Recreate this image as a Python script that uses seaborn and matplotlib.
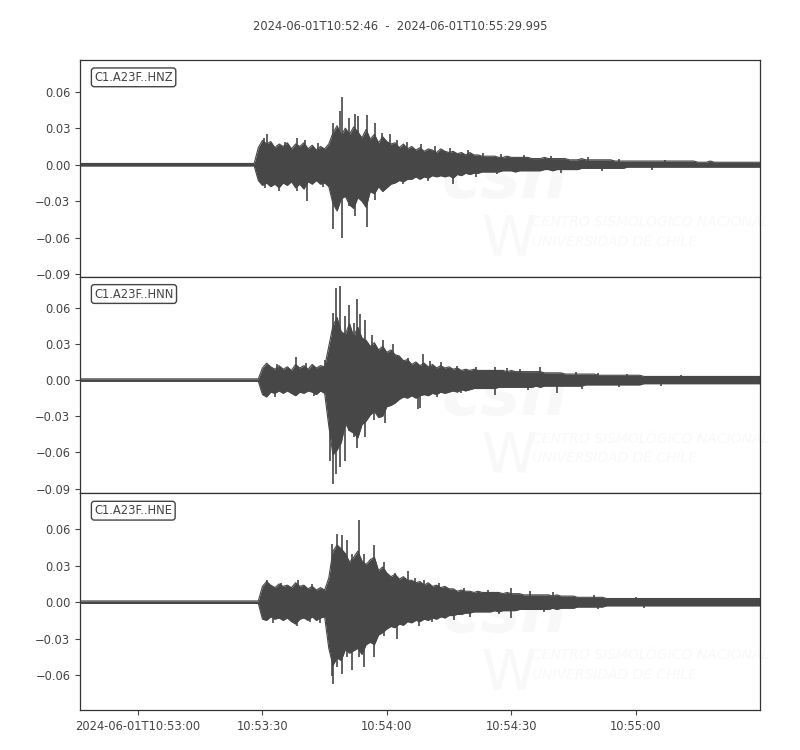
import numpy as np
import pandas as pd
import seaborn as sns
import matplotlib.pyplot as plt
import matplotlib.dates as mdates
from matplotlib.ticker import FuncFormatter

# Settings
sns.set_style("ticks")
plt.rcParams['font.family'] = ['DejaVu Sans']

# Data: envelope of each trace, one value per second from 10:52:46 (units of 0.001)
start = pd.Timestamp("2024-06-01T10:52:46")
channels = ["C1.A23F..HNZ", "C1.A23F..HNN", "C1.A23F..HNE"]

hnz_upper = ([1] * 43 +
             [14, 20, 17, 19, 14, 17, 15,
              18, 13, 17, 15, 18, 13, 16, 12, 15, 13,
              17, 26, 32, 24, 30, 25, 31, 27, 22, 29,
              21, 25, 18, 23, 19, 17, 18, 14, 17, 13,
              15, 12, 14, 11, 13, 12, 10, 13, 11, 10,
              11, 9, 10, 8, 10, 8, 8, 7, 7, 7,
              7, 6, 6, 7, 6, 6, 6, 6, 6, 5,
              5, 5, 6, 5, 5, 5, 5, 5, 4, 4,
              4, 5, 4, 4, 4, 4, 4, 4, 4, 3,
              3, 3, 3, 3, 3, 3, 3, 3, 3, 3,
              3, 3, 3, 3, 3, 3, 3, 3, 3, 2,
              2, 2, 3, 2, 2, 2, 2, 2, 2, 2,
              2, 2, 2, 2, 2])
hnz_lower = ([-1] * 43 +
             [-13, -17, -15, -18, -16, -19, -15,
              -17, -14, -19, -16, -20, -14, -16, -13, -16, -15,
              -18, -32, -38, -28, -26, -33, -36, -27, -30, -35,
              -22, -24, -18, -22, -19, -16, -15, -13, -14, -12,
              -12, -10, -12, -10, -11, -9, -10, -9, -10, -9,
              -11, -8, -9, -7, -8, -7, -7, -6, -6, -6,
              -6, -6, -5, -5, -5, -6, -5, -5, -5, -5,
              -5, -5, -4, -4, -5, -4, -4, -4, -4, -4,
              -4, -3, -3, -3, -3, -3, -3, -3, -3, -3,
              -3, -3, -2, -2, -2, -2, -2, -2, -2, -2] +
             [-2] * 25)
hnz_spike_t = [44.3, 45.0, 49.5, 52.3, 54.3, 57.5, 60.9, 62.6, 63.1, 64.8, 66.4, 67.0,
               69.2, 71.2, 72.8, 74.8, 76.4, 78.8, 82.2, 85.5, 89.2, 93.5, 97.2, 101.5,
               107.0, 113.5, 122.4, 130.0, 141.0,
               44.5, 48.0, 52.3, 54.8, 58.5, 60.9, 63.1, 64.8, 66.4, 69.2, 71.2, 78.0,
               84.0, 90.0, 95.5, 100.5, 116.0, 126.0, 138.0]
hnz_spike_v = [22, 25, 19, 22, 20, 18, 34, 44, 56, 38, 42, 40,
               41, 34, 26, 25, 20, 19, 17, 15, 14, 12, 10, 9,
               8, 7, 6.5, 5, 4,
               -19, -22, -22, -30, -18, -53, -60, -34, -42, -51, -29, -16,
               -13, -16, -10, -8, -6.5, -5, -4]

hnn_upper = ([1] * 44 +
             [10, 14, 11, 9, 12, 9,
              11, 8, 13, 10, 12, 9, 13, 10, 12, 11,
              28, 45, 52, 40, 38, 47, 36, 44, 35, 33,
              28, 31, 25, 28, 23, 25, 21, 20, 16, 17,
              13, 15, 12, 14, 11, 13, 10, 12, 10, 11,
              9, 10, 8, 9, 8, 9, 8, 8, 8, 8,
              8, 8, 8, 7, 8, 7, 7, 7, 7, 7,
              7, 7, 6, 6, 6, 6, 6, 5, 5, 5,
              5, 5, 5, 5, 5, 4, 4, 4, 4, 4,
              4, 4, 4, 4, 4, 4, 3, 3, 3, 3] +
             [3] * 25)
hnn_lower = ([-1] * 44 +
             [-12, -14, -10, -11, -9, -11,
              -9, -11, -13, -10, -11, -9, -10, -12, -9, -11,
              -38, -62, -58, -52, -36, -42, -44, -48, -37, -34,
              -29, -26, -31, -30, -22, -21, -19, -16, -14, -15,
              -13, -15, -13, -12, -13, -11, -12, -10, -11, -10,
              -9, -10, -8, -9, -8, -7, -7, -7, -7, -7,
              -7, -6, -6, -6, -6, -6, -6, -6, -6, -6,
              -5, -6, -5, -5, -5, -5, -5, -5, -5, -5,
              -5, -5, -4, -4, -4, -4, -4, -4, -4, -4,
              -4, -4, -4, -4, -4, -4, -3, -3, -3, -3] +
             [-3] * 25)
hnn_spike_t = [47.5, 52.0, 54.5, 59.0, 61.0, 61.8, 62.6, 63.8, 64.9, 66.0, 66.9, 67.6,
               68.8, 70.5, 73.0, 75.5, 79.0, 82.7, 84.5, 87.0, 91.0, 95.5, 100.0, 103.0,
               106.0, 111.0, 119.5, 125.0, 132.0, 145.0,
               47.0, 56.5, 60.3, 61.0, 61.8, 62.6, 63.8, 64.9, 66.0, 66.9, 68.8, 71.0,
               73.5, 81.6, 82.0, 86.0, 92.0, 100.0, 108.0, 115.0, 121.0, 130.0, 140.0]
hnn_spike_v = [13, 19, 14, 17, 56, 76, 78, 53, 62, 47, 67, 55,
               50, 37, 33, 30, 18, 22, 16, 15, 12, 11, 11, 10,
               9, 11, 7, 6, 5, 4,
               -14, -13, -67, -86, -78, -72, -67, -42, -47, -56, -47, -33,
               -36, -24, -23, -14, -11, -12, -8, -11, -7, -6, -5]

hne_upper = ([1] * 44 +
             [13, 17, 14, 12, 15, 13,
              14, 12, 16, 13, 14, 11, 13, 10, 12, 10,
              20, 42, 47, 44, 40, 33, 37, 42, 34, 31,
              35, 37, 26, 29, 24, 21, 23, 19, 21, 18,
              18, 16, 17, 14, 16, 13, 14, 12, 13, 11,
              11, 9, 10, 9, 9, 8, 9, 8, 8, 8,
              8, 8, 7, 8, 7, 7, 7, 6, 6, 6,
              6, 6, 6, 6, 5, 6, 5, 5, 5, 5,
              4, 4, 4, 4, 4, 4, 4, 3, 3, 3] +
             [3] * 35)
hne_lower = ([-1] * 44 +
             [-14, -15, -12, -14, -13, -15,
              -13, -16, -18, -14, -13, -15, -12, -15, -13, -12,
              -38, -52, -46, -48, -39, -42, -40, -38, -43, -35,
              -33, -35, -27, -25, -22, -20, -21, -18, -19, -16,
              -17, -15, -16, -14, -15, -13, -14, -12, -13, -11,
              -11, -10, -10, -9, -9, -8, -8, -8, -8, -8,
              -7, -8, -7, -7, -7, -7, -6, -6, -6, -6,
              -6, -6, -6, -6, -5, -6, -5, -5, -5, -5,
              -4, -4, -4, -4, -4, -4, -4, -3, -3, -3] +
             [-3] * 35)
hne_spike_t = [45.2, 48.5, 52.6, 56.0, 60.7, 62.1, 63.1, 64.3, 65.6, 67.2, 68.4, 71.0,
               73.4, 76.0, 79.0, 80.7, 83.0, 86.5, 92.5, 98.5, 104.0, 108.5, 114.0,
               124.0, 134.0,
               46.5, 52.3, 55.5, 58.0, 60.7, 61.1, 62.1, 63.1, 64.3, 65.6, 67.2, 68.4,
               71.0, 73.4, 76.5, 81.8, 85.0, 90.2, 94.0, 101.0, 104.0, 112.0, 125.0, 136.0]
hne_spike_v = [18, 16, 18, 15, 48, 56, 55, 51, 40, 68, 40, 47,
               33, 24, 26, 20, 18, 16, 12, 10, 11.5, 9, 8,
               5.5, 4.5,
               -17, -20, -16, -17, -61, -67, -53, -59, -45, -56, -45, -53,
               -45, -28, -30, -20, -16, -15, -12, -10, -13, -8, -6, -4.5]

y_limits = [(-0.092, 0.086), (-0.094, 0.0858), (-0.0888, 0.0896)]
y_ticks = [[-0.09, -0.06, -0.03, 0.0, 0.03, 0.06],
           [-0.09, -0.06, -0.03, 0.0, 0.03, 0.06],
           [-0.06, -0.03, 0.0, 0.03, 0.06]]

traces = [(hnz_upper, hnz_lower, hnz_spike_t, hnz_spike_v),
          (hnn_upper, hnn_lower, hnn_spike_t, hnn_spike_v),
          (hne_upper, hne_lower, hne_spike_t, hne_spike_v)]

# Plot
line_color = "#474747"
text_color = "#444444"
mark_color = "#f8f8f8"
font_size = 8.3

fig, axes = plt.subplots(3, 1, figsize=(8, 7.5), dpi=100, sharex=True)
fig.subplots_adjust(left=0.1, right=0.95, top=0.92, bottom=0.0533, hspace=0)

for ax, name, (up, lo, sp_t, sp_v), ylim, yt in zip(axes, channels, traces, y_limits, y_ticks):
    times = start + pd.to_timedelta(np.arange(len(up)), unit="s")
    df = pd.DataFrame({"time": times,
                       "upper": np.array(up) * 0.001,
                       "lower": np.array(lo) * 0.001})

    # faint CSN watermark
    ax.text(0.625, 0.45, "csn", transform=ax.transAxes, fontsize=48,
            fontweight="bold", fontstyle="italic", color=mark_color,
            ha="center", va="center", zorder=0)
    ax.text(0.63, 0.17, "W", transform=ax.transAxes, fontsize=40,
            color=mark_color, ha="center", va="center", zorder=0)
    ax.text(0.665, 0.253, "CENTRO SISMOLÓGICO NACIONAL", transform=ax.transAxes,
            fontsize=10, fontstyle="italic", color=mark_color, va="center", zorder=0)
    ax.text(0.665, 0.161, "UNIVERSIDAD DE CHILE", transform=ax.transAxes,
            fontsize=10, fontstyle="italic", color=mark_color, va="center", zorder=0)

    ax.fill_between(df["time"], df["lower"], df["upper"], color=line_color, lw=0, zorder=2)
    sns.lineplot(data=df, x="time", y="upper", ax=ax, color=line_color, lw=0.8, zorder=3)
    sns.lineplot(data=df, x="time", y="lower", ax=ax, color=line_color, lw=0.8, zorder=3)
    spike_times = start + pd.to_timedelta(sp_t, unit="s")
    ax.vlines(spike_times, 0, np.array(sp_v) * 0.001, color=line_color, lw=1.2, zorder=3)

    ax.set_ylim(*ylim)
    ax.set_yticks(yt)
    ax.yaxis.set_major_formatter(FuncFormatter(lambda v, p: f"{v:.2f}".replace("-", "\u2212")))
    ax.set_xlabel("")
    ax.set_ylabel("")
    ax.tick_params(colors=text_color, labelsize=font_size, length=3.5)
    for sp in ax.spines.values():
        sp.set_visible(True)
        sp.set_color("#333333")
        sp.set_linewidth(0.9)
    ax.text(0.021, 0.92, name, transform=ax.transAxes, fontsize=font_size, color=text_color,
            ha="left", va="center", zorder=5,
            bbox=dict(boxstyle="round,pad=0.25", fc="white", ec=text_color, lw=1))

axes[-1].set_xlim(start, start + pd.Timedelta(seconds=163.995))
axes[-1].xaxis.set_major_locator(mdates.SecondLocator(bysecond=[0, 30]))


def time_label(v, pos):
    d = mdates.num2date(v)
    if pos == 0:
        return d.strftime("%Y-%m-%dT%H:%M:%S")
    return d.strftime("%H:%M:%S")


axes[-1].xaxis.set_major_formatter(FuncFormatter(time_label))
for ax in axes[:-1]:
    ax.tick_params(axis="x", length=0)

fig.suptitle("2024-06-01T10:52:46  -  2024-06-01T10:55:29.995", y=0.973,
             fontsize=font_size, color=text_color)

plt.savefig("out.png", dpi=100)
